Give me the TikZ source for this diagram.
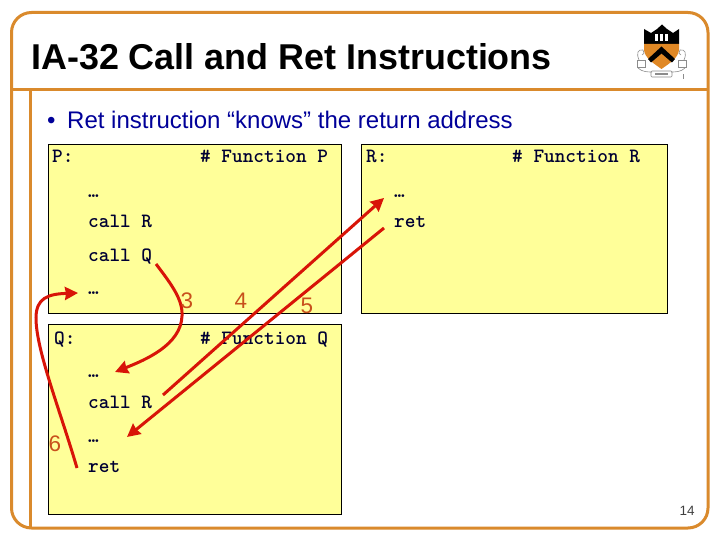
\documentclass[tikz,border=0pt]{standalone}
\usepackage{fontspec}
\setmainfont{Liberation Sans}
\usetikzlibrary{arrows.meta}
\definecolor{framec}{HTML}{DA8A2C}
\definecolor{boxc}{HTML}{FFFF99}
\definecolor{arrowc}{HTML}{D81408}
\definecolor{numc}{HTML}{C8501C}
\definecolor{bluec}{HTML}{000099}
\definecolor{codec}{HTML}{000033}
\tikzset{
  codebox/.style={draw=black,line width=1pt,fill=boxc,anchor=north west,inner sep=0pt},
  code/.style={anchor=base west,inner sep=0pt,font=\ttfamily\fontsize{20.3}{22}\selectfont\bfseries,text=codec},
  num/.style={inner sep=0pt,font=\fontsize{22.5}{25}\selectfont,text=numc},
  flow/.style={draw=arrowc,line width=3pt},
  flowtip/.style={flow,-{Stealth[inset=1pt,length=13pt,width=13pt]}},
  rule/.style={draw=framec,line width=3pt},
  logoline/.style={draw=black!45,line width=.6pt},
}
\begin{document}
\begin{tikzpicture}[x=1pt,y=-1pt]
\useasboundingbox (0,0) rectangle (720,540);
\fill[white] (0,0) rectangle (720,540);
% frame
\draw[rule,rounded corners=20pt] (11.5,12.5) rectangle (708,528);
\draw[rule] (11.5,90) -- (708,90);
\draw[rule] (30,90) -- (30,528);
% title
\node[anchor=base west,inner sep=0pt,font=\fontsize{35.9}{40}\selectfont\bfseries] (title) at (31,70) {IA-32 Call and Ret Instructions};
\node[anchor=base west,inner sep=0pt,font=\fontsize{24}{28}\selectfont,text=bluec] (bullet) at (47,129) {•};
\node[anchor=base west,inner sep=0pt,font=\fontsize{24}{28}\selectfont,text=bluec] (sub) at (67,129) {Ret instruction “knows” the return address};
\node[anchor=base,inner sep=0pt,font=\fontsize{13.5}{16}\selectfont,text=black!75] (page) at (687,515) {14};
% boxes
\node[codebox,minimum width=293pt,minimum height=168pt] (P) at (48,144.5) {};
\node[codebox,minimum width=306pt,minimum height=168pt] (R) at (360.5,144.5) {};
\node[codebox,minimum width=293pt,minimum height=190pt] (Q) at (48,324) {};
% P
\node[code] (p0) at (52,163) {P:};
\node[code] (p0c) at (200,163) {\# Function P};
\node[code] (p1) at (88,197) {…};
\node[code] (p2) at (88,228) {call R};
\node[code] (p3) at (88,261) {call Q};
\node[code] (p4) at (88,294) {…};
% R
\node[code] (r0) at (366,163) {R:};
\node[code] (r0c) at (512,163) {\# Function R};
\node[code] (r1) at (394,197) {…};
\node[code] (r2) at (394,228) {ret};
% Q
\node[code] (q0) at (54,344) {Q:};
\node[code] (q0c) at (200,344) {\# Function Q};
\node[code] (q1) at (88,377) {…};
\node[code] (q2) at (88,408) {call R};
\node[code] (q3) at (88,442) {…};
\node[code] (q4) at (88,472) {ret};
% logo
\begin{scope}
\fill[black] (644,29) -- (651,33) -- (657,29) -- (662,24.5) -- (667,29) -- (673,33) -- (679,29) -- (679,44) -- (644,44) -- cycle;
\fill[framec!85!orange] (644,44) -- (679,44) -- (679,50) .. controls (678,58) and (670,63) .. (661.5,69) .. controls (653,63) and (645,58) .. (644,50) -- cycle;
\fill[black] (661.5,46.5) -- (675,59) -- (672,62.5) -- (661.5,53.5) -- (651,62.5) -- (648,59) -- cycle;
\fill[white] (655,34) rectangle (658,41);
\fill[white] (660,34) rectangle (663,41);
\fill[white] (665,34) rectangle (668,41);
\draw[logoline] (638,68) .. controls (642,72) and (648,72) .. (652,72);
\draw[logoline] (685,68) .. controls (681,72) and (675,72) .. (671,72);
\draw[logoline,rounded corners=1pt] (651,71) rectangle (672,77);
\fill[black!45] (655,73.5) rectangle (668,75);
\draw[logoline] (637,60) rectangle (645,67);
\draw[logoline] (678,60) rectangle (686,67);
\draw[logoline] (639,60) .. controls (636,53) and (638,49) .. (643,50) .. controls (645,52) and (644,55) .. (642,55);
\draw[logoline] (684,60) .. controls (687,53) and (685,49) .. (680,50) .. controls (678,52) and (679,55) .. (681,55);
\fill[black!45] (683,74) rectangle (684,79);
\end{scope}
% connector anchors
\coordinate (a3s) at (156,264);
\coordinate (a3e) at (115,372);
\coordinate (a4s) at (163,395);
\coordinate (a4e) at (384,198);
\coordinate (a5s) at (384,228);
\coordinate (a5e) at (127,437);
\coordinate (a6s) at (77,468);
\coordinate (a6e) at (78,293);
% connectors
\draw[flowtip] (a3s) .. controls (172,285) and (183,300) .. (182,316) .. controls (181,345) and (145,360) .. (a3e);
\draw[flowtip] (a4s) -- (a4e);
\draw[flowtip] (a5s) -- (a5e);
\draw[flowtip] (a6s) .. controls (60,410) and (36,350) .. (36,318) .. controls (36,298) and (48,294) .. (a6e);
% numbers
\node[num] (n3) at (187,301) {3};
\node[num] (n4) at (241,301) {4};
\node[num] (n5) at (307,306) {5};
\node[num] (n6) at (55,444) {6};
\end{tikzpicture}
\end{document}
